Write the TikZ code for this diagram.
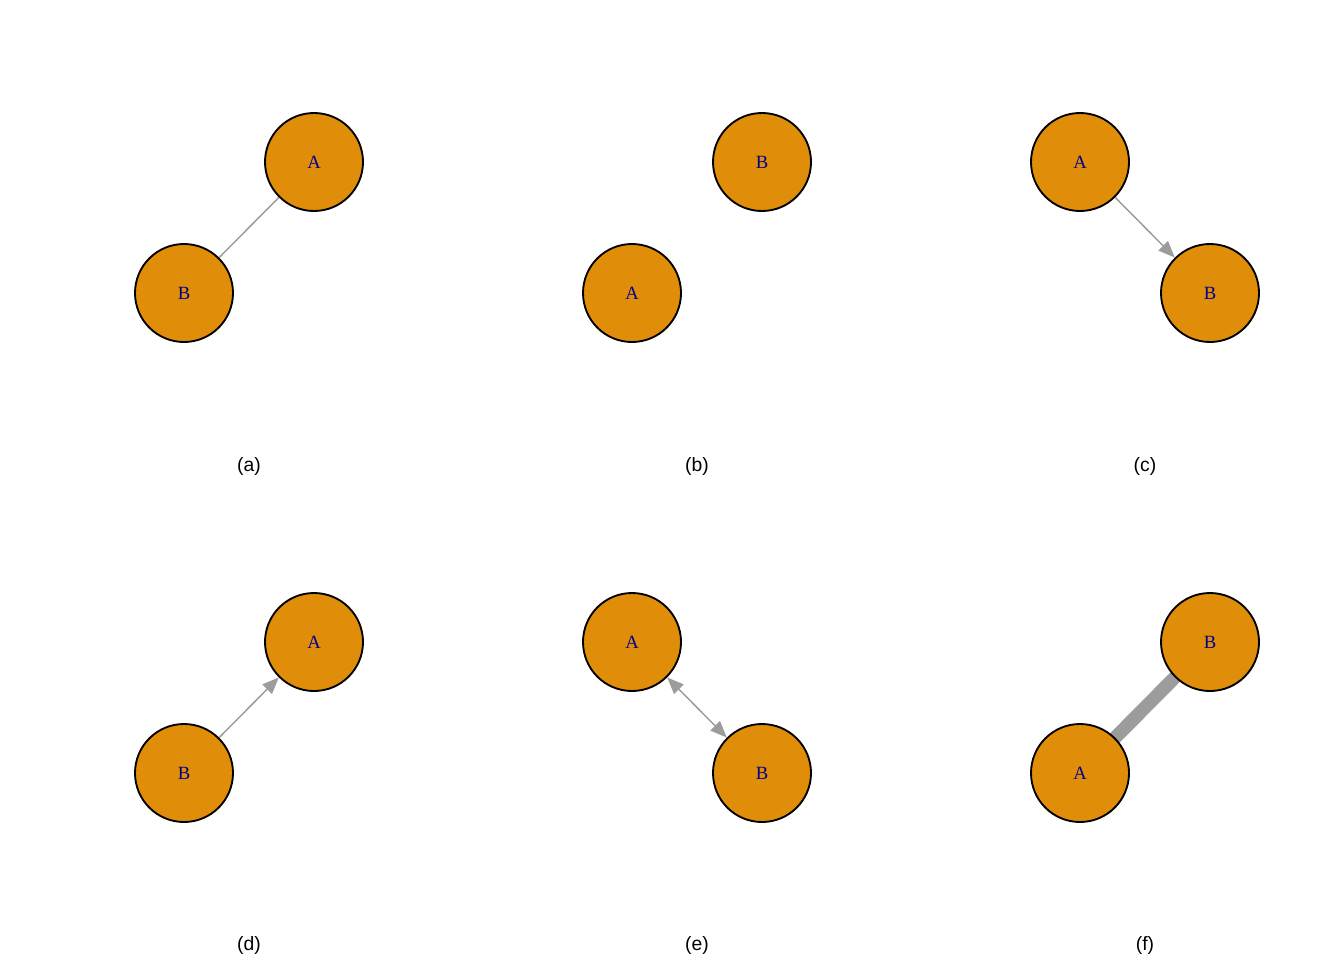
\documentclass[tikz,border=0pt]{standalone}
\usepackage{fontspec}
\setmainfont{Liberation Serif}
\newfontfamily\capfont{Liberation Sans}
\usetikzlibrary{arrows.meta,backgrounds}
\definecolor{vfill}{RGB}{224,142,10}
\definecolor{vlab}{RGB}{0,0,139}
\definecolor{egray}{RGB}{156,156,156}
\tikzset{
  vert/.style={circle,draw=black,line width=1.4pt,fill=vfill,minimum size=73.5pt,inner sep=0pt,
    text=vlab,font=\fontsize{14}{16}\selectfont},
  caplabel/.style={font=\capfont\fontsize{14.5}{17}\selectfont},
  edge/.style={draw=egray,line width=1.1pt},
  tip/.style={Triangle[length=12.5pt,width=10pt]},
  arr/.style={-{Triangle[length=12.5pt,width=10pt]}},
  bigedge/.style={draw=egray,line width=10pt}
}
\begin{document}
\begin{tikzpicture}[x=0.75pt,y=-0.75pt]
\useasboundingbox (0,0) rectangle (1344,960);
% (a)
\node[vert] (aA) at (314,162) {A};
\node[vert] (aB) at (184,293) {B};
\draw[edge] (aA) -- (aB);
\node[caplabel] (capa) at (249,466) {(a)};
% (b)
\node[vert] (bB) at (762,162) {B};
\node[vert] (bA) at (632,293) {A};
\node[caplabel] (capb) at (697,466) {(b)};
% (c)
\node[vert] (cA) at (1080,162) {A};
\node[vert] (cB) at (1210,293) {B};
\draw[edge,arr] (cA) -- (cB);
\node[caplabel] (capc) at (1145,466) {(c)};
% (d)
\node[vert] (dA) at (314,642) {A};
\node[vert] (dB) at (184,773) {B};
\draw[edge,arr] (dB) -- (dA);
\node[caplabel] (capd) at (249,945) {(d)};
% (e)
\node[vert] (eA) at (632,642) {A};
\node[vert] (eB) at (762,773) {B};
\draw[edge,{Triangle[length=12.5pt,width=10pt]}-{Triangle[length=12.5pt,width=10pt]}] (eA) -- (eB);
\node[caplabel] (cape) at (697,945) {(e)};
% (f)
\node[vert] (fA) at (1080,773) {A};
\node[vert] (fB) at (1210,642) {B};
\begin{scope}[on background layer]
\draw[bigedge] (fA.center) -- (fB.center);
\end{scope}
\node[caplabel] (capf) at (1145,945) {(f)};
\end{tikzpicture}
\end{document}
